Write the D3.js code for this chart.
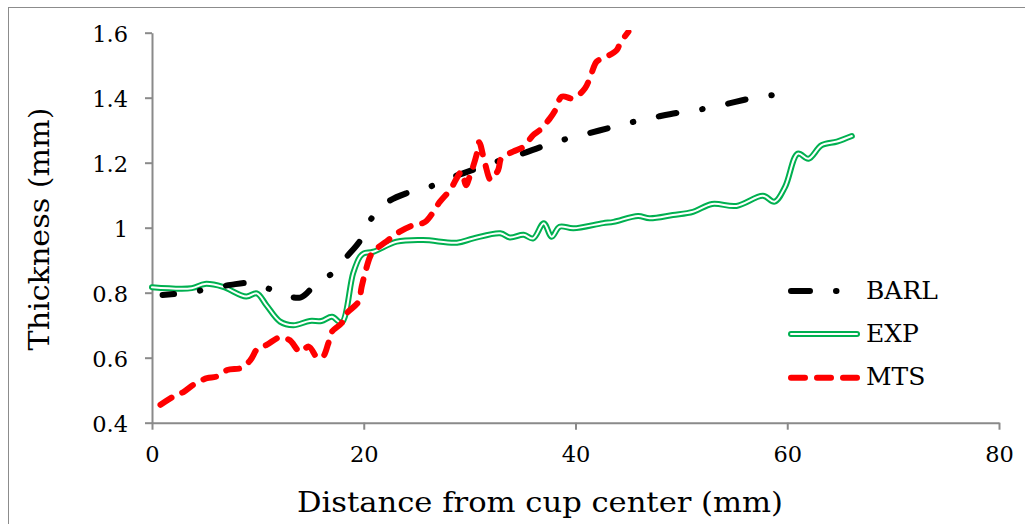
<!DOCTYPE html>
<html>
<head>
<meta charset="utf-8">
<script src="https://cdn.jsdelivr.net/npm/d3@7/dist/d3.min.js"></script>
<style>
  html, body { margin: 0; padding: 0; background: #fff; }
  svg { display: block; }
  text { font-family: "DejaVu Serif", serif; fill: #000; }
</style>
</head>
<body>
<svg id="chart" width="1025" height="524"></svg>
<script>
// Thickness profiles along the cup radius (mm)
const seriesNames = ["BARL", "EXP", "MTS"];

const barlX = [1.0, 2.9, 5.2, 7.4, 9.5, 11.7, 14.0, 15.4, 17.1, 18.4, 19.7, 20.7, 22.3, 24.2, 26.5, 28.9, 30.3, 32.7, 34.9, 36.8, 39.0, 41.3, 43.2, 45.5, 47.8, 49.7, 52.0, 54.3, 56.3, 58.6];
const barlY = [0.793, 0.799, 0.810, 0.824, 0.830, 0.804, 0.785, 0.824, 0.862, 0.911, 0.962, 1.027, 1.080, 1.108, 1.129, 1.162, 1.178, 1.205, 1.227, 1.249, 1.272, 1.291, 1.307, 1.326, 1.342, 1.354, 1.365, 1.381, 1.396, 1.408];

const expX = [0.0, 3.75, 5.0, 6.7, 8.9, 9.9, 10.8, 12.1, 13.35, 14.9, 16.0, 17.0, 17.9, 19.0, 19.65, 20.0, 20.9, 23.1, 25.6, 28.8, 30.35, 32.9, 33.8, 35.1, 36.0, 37.0, 37.75, 38.5, 39.8, 42.6, 43.6, 45.9, 47.0, 49.2, 51.1, 52.9, 55.2, 57.7, 58.8, 59.8, 61.0, 62.0, 63.25, 64.7, 66.1];
const expY = [0.817, 0.814, 0.827, 0.818, 0.788, 0.798, 0.762, 0.711, 0.700, 0.713, 0.713, 0.726, 0.708, 0.860, 0.911, 0.921, 0.926, 0.957, 0.962, 0.954, 0.967, 0.983, 0.970, 0.978, 0.967, 1.014, 0.972, 1.003, 0.998, 1.014, 1.018, 1.036, 1.029, 1.039, 1.049, 1.073, 1.067, 1.098, 1.080, 1.126, 1.228, 1.212, 1.254, 1.265, 1.282];

const mtsX = [0.8, 2.0, 3.0, 4.1, 5.2, 6.1, 7.1, 8.5, 9.3, 10.0, 10.8, 12.1, 13.0, 14.0, 14.8, 15.6, 16.1, 16.65, 17.0, 17.9, 18.4, 19.5, 19.8, 20.2, 20.6, 20.9, 22.3, 23.4, 24.7, 25.8, 27.2, 28.15, 29.25, 29.65, 30.0, 30.65, 30.9, 31.45, 32.0, 32.7, 33.0, 34.1, 35.1, 36.0, 36.65, 37.6, 38.1, 38.7, 39.8, 40.9, 41.4, 42.0, 42.6, 43.9, 44.2, 45.0];
const mtsY = [0.455, 0.480, 0.495, 0.521, 0.537, 0.542, 0.562, 0.569, 0.593, 0.629, 0.639, 0.663, 0.654, 0.618, 0.634, 0.601, 0.601, 0.644, 0.680, 0.706, 0.737, 0.772, 0.818, 0.870, 0.911, 0.926, 0.962, 0.988, 1.008, 1.018, 1.080, 1.116, 1.172, 1.131, 1.157, 1.224, 1.263, 1.198, 1.147, 1.178, 1.214, 1.234, 1.249, 1.285, 1.301, 1.337, 1.362, 1.403, 1.398, 1.429, 1.465, 1.511, 1.521, 1.547, 1.567, 1.603];

const xTicks = [0, 20, 40, 60, 80];
const yTicks = [0.4, 0.6, 0.8, 1.0, 1.2, 1.4, 1.6];
const yTickLabels = ["0.4", "0.6", "0.8", "1", "1.2", "1.4", "1.6"];

const xTitle = "Distance from cup center (mm)";
const yTitle = "Thickness (mm)";

const svg = d3.select("#chart");

// outer chart frame
svg.append("rect")
  .attr("x", 8.5).attr("y", 7.5)
  .attr("width", 1100).attr("height", 600)
  .attr("fill", "none").attr("stroke", "#8c8c8c").attr("stroke-width", 1);

const x = d3.scaleLinear().domain([0, 80]).range([152, 999]);
const y = d3.scaleLinear().domain([0.4, 1.6]).range([422.7, 32.7]);

const axisColor = "#8a8a8a";

const gx = svg.append("g")
  .attr("transform", `translate(0,${y(0.4)})`)
  .call(d3.axisBottom(x).tickValues(xTicks).tickSize(7).tickSizeOuter(0).tickPadding(16));
const gy = svg.append("g")
  .attr("transform", `translate(${x(0)},0)`)
  .call(d3.axisLeft(y).tickValues(yTicks).tickSize(7).tickSizeOuter(0).tickPadding(17)
    .tickFormat((d, i) => yTickLabels[i]));

[gx, gy].forEach(g => {
  g.select(".domain").attr("stroke", axisColor).attr("stroke-width", 2);
  g.selectAll(".tick line").attr("stroke", axisColor).attr("stroke-width", 2);
  g.selectAll(".tick text").attr("font-family", "DejaVu Serif").attr("font-size", 22.5).attr("fill", "#000");
});
gy.selectAll(".tick text").attr("dy", "0.4em");

// axis titles
svg.append("text")
  .attr("x", 540).attr("y", 512)
  .attr("text-anchor", "middle")
  .attr("font-size", 28)
  .attr("textLength", 486).attr("lengthAdjust", "spacingAndGlyphs")
  .text(xTitle);

svg.append("text")
  .attr("transform", "translate(49,229) rotate(-90)")
  .attr("text-anchor", "middle")
  .attr("font-size", 28)
  .attr("textLength", 243).attr("lengthAdjust", "spacingAndGlyphs")
  .text(yTitle);

// plot clip
svg.append("clipPath").attr("id", "plot-clip")
  .append("rect").attr("x", 140).attr("y", 30).attr("width", 880).attr("height", 410);

const line = d3.line()
  .x(d => x(d[0]))
  .y(d => y(d[1]))
  .curve(d3.curveCatmullRom.alpha(0.5));

const plot = svg.append("g").attr("clip-path", "url(#plot-clip)");

const expData = d3.zip(expX, expY);
const barlData = d3.zip(barlX, barlY);
const mtsData = d3.zip(mtsX, mtsY);

// EXP: double green line
plot.append("path").datum(expData)
  .attr("d", line).attr("fill", "none")
  .attr("stroke", "#00b050").attr("stroke-width", 6)
  .attr("stroke-linecap", "round").attr("stroke-linejoin", "round");
plot.append("path").datum(expData)
  .attr("d", line).attr("fill", "none")
  .attr("stroke", "#fff").attr("stroke-width", 2)
  .attr("stroke-linecap", "round").attr("stroke-linejoin", "round");

// BARL: long dash-dot, phased so the line finishes on a dot
const barlPath = plot.append("path").datum(barlData)
  .attr("d", line).attr("fill", "none")
  .attr("stroke", "#000").attr("stroke-width", 6)
  .attr("stroke-dasharray", "18,26,0.5,26")
  .attr("stroke-linecap", "round").attr("stroke-linejoin", "round");
const barlLen = barlPath.node().getTotalLength();
const dotPos = 44, period = 70.5;
const target = barlLen - 1.5;
barlPath.attr("stroke-dashoffset", ((dotPos - target) % period + period) % period);

// MTS: red dashes
plot.append("path").datum(mtsData)
  .attr("d", line).attr("fill", "none")
  .attr("stroke", "#ff0000").attr("stroke-width", 6)
  .attr("stroke-dasharray", "13,12")
  .attr("stroke-linecap", "round").attr("stroke-linejoin", "round");

// legend
const legendRows = [
  { name: seriesNames[0], y: 291 },
  { name: seriesNames[1], y: 334 },
  { name: seriesNames[2], y: 377.7 }
];
const lg = svg.append("g");
legendRows.forEach(r => {
  const seg = `M791,${r.y}H857`;
  if (r.name === "EXP") {
    lg.append("path").attr("d", seg).attr("stroke", "#00b050").attr("stroke-width", 6).attr("stroke-linecap", "round");
    lg.append("path").attr("d", seg).attr("stroke", "#fff").attr("stroke-width", 2).attr("stroke-linecap", "round");
  } else if (r.name === "BARL") {
    lg.append("path").attr("d", seg).attr("stroke", "#000").attr("stroke-width", 6)
      .attr("stroke-dasharray", "19,26,0.5,26").attr("stroke-linecap", "round");
  } else {
    lg.append("path").attr("d", seg).attr("stroke", "#ff0000").attr("stroke-width", 6)
      .attr("stroke-dasharray", "14,12").attr("stroke-linecap", "round");
  }
  lg.append("text").attr("x", 866).attr("y", r.y + 7.5).attr("font-size", 25).text(r.name);
});
</script>
</body>
</html>
